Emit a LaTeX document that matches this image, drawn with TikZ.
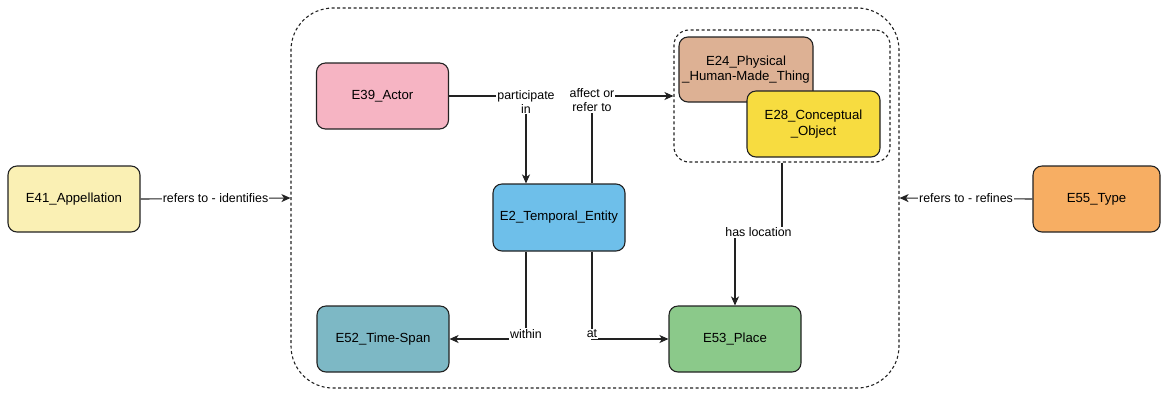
\documentclass[tikz,border=0pt]{standalone}
\usepackage{fontspec}
\setmainfont{Liberation Sans}
\usetikzlibrary{arrows.meta,calc}
\definecolor{cApp}{HTML}{FAF0B4}
\definecolor{cActor}{HTML}{F6B4C3}
\definecolor{cTemp}{HTML}{6EBFEA}
\definecolor{cPhys}{HTML}{DDB194}
\definecolor{cConc}{HTML}{F7DC40}
\definecolor{cSpan}{HTML}{7DB8C5}
\definecolor{cPlace}{HTML}{8BC98A}
\definecolor{cType}{HTML}{F7AE63}
\definecolor{cLine}{HTML}{222222}
\begin{document}
\begin{tikzpicture}[x=1pt,y=-1pt,
  box/.style={draw=cLine, line width=1.1pt, rounded corners=9pt, minimum width=132pt, minimum height=66pt, align=center, inner sep=0pt, font=\fontsize{13.2}{15.5}\selectfont},
  container/.style={draw=cLine, line width=1.1pt, dash pattern=on 3pt off 2.5pt, inner sep=0pt},
  lbl/.style={fill=white, inner sep=1pt, align=center, font=\fontsize{12.4}{14}\selectfont},
  arr/.style={draw=cLine, line width=1.1pt, -{Stealth[length=9pt,width=8pt,inset=2.5pt]}}
]
\useasboundingbox (0,0) rectangle (1161,392);
% containers
\node[container, rounded corners=42pt, minimum width=608pt, minimum height=380pt] (outer) at (595,198) {};
\node[container, rounded corners=15pt, minimum width=216pt, minimum height=132pt] (inner) at (782,96) {};
% boxes
\node[box, fill=cApp] (e41) at (74,199) {E41\_Appellation};
\node[box, fill=cType, minimum width=127pt] (e55) at (1096.5,199) {E55\_Type};
\node[box, fill=cActor] (e39) at (382.5,96) {E39\_Actor};
\node[box, fill=cTemp, minimum height=67pt] (e2) at (559,217.5) {E2\_Temporal\_Entity};
\node[box, fill=cPhys, minimum width=134pt, minimum height=65pt] (e24) at (746,69.5) {E24\_Physical\\\_Human-Made\_Thing};
\node[box, fill=cConc, minimum width=133pt] (e28) at (813.5,124) {E28\_Conceptual\\\_Object};
\node[box, fill=cSpan] (e52) at (383,339) {E52\_Time-Span};
\node[box, fill=cPlace] (e53) at (735,339) {E53\_Place};
% connectors
\draw[arr] (e41.east) -- node[lbl]{refers to - identifies} (outer.west);
\draw[arr] (e55.west) -- node[lbl]{refers to - refines} (outer.east);
\draw[arr] (e39.east) -| node[lbl, yshift=-6pt]{participate\\in} ([xshift=-33pt]e2.north);
\draw[arr] ([xshift=33pt]e2.north) |- node[lbl, yshift=-4pt]{affect or\\refer to} (inner.west);
\draw[arr] ([xshift=-33pt]e2.south) |- node[lbl, yshift=5pt]{within} (e52.east);
\draw[arr] ([xshift=33pt]e2.south) |- node[lbl, yshift=5pt]{at} (e53.west);
\draw[arr] (inner.south) |- node[lbl, pos=0.75]{has location} ([yshift=73pt]e53.north) -- (e53.north);
\end{tikzpicture}
\end{document}
